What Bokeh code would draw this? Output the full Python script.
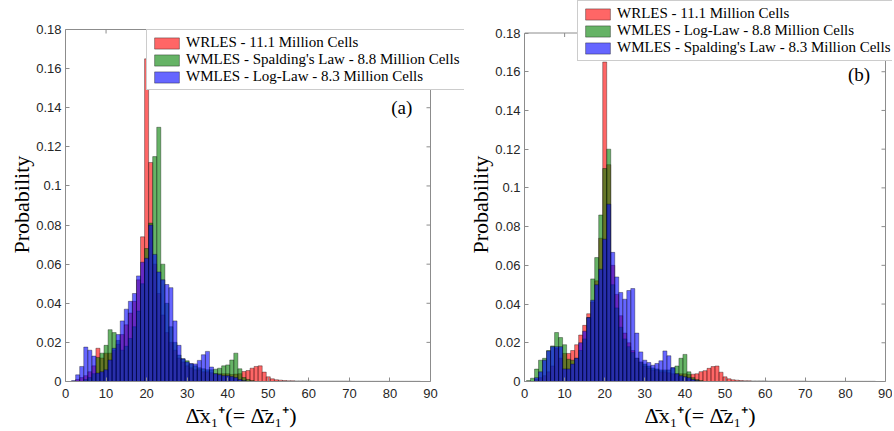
import math
from bokeh.plotting import figure
from bokeh.models import (Range1d, FixedTicker, CustomJSTickFormatter,
                          Legend, LegendItem, Label, ColumnDataSource, Title)
from bokeh.layouts import row
from bokeh.embed import file_html
from bokeh.resources import INLINE

# ---------------- data (bin centres 1..87, bin width 1) ----------------
bin_centers = list(range(1, 88))
bin_width = 1.0

wrles = [0, 0, 0.001, 0.002, 0.003, 0.005, 0.008, 0.017, 0.012, 0.0145,
         0.0145, 0.016, 0.019, 0.024, 0.029, 0.035, 0.041, 0.052, 0.074, 0.165,
         0.112, 0.060, 0.045, 0.034, 0.025, 0.020, 0.016, 0.012, 0.010, 0.008,
         0.007, 0.006, 0.006, 0.005, 0.005, 0.0045, 0.004, 0.004, 0.004, 0.004,
         0.0036, 0.0038, 0.0040, 0.0051, 0.0056, 0.0068, 0.0077, 0.0080, 0.0048, 0.0024,
         0.0014, 0.0009, 0.0007, 0.0005, 0.0004, 0.0004, 0.0003, 0.0003, 0.0003, 0.0003,
         0.0002, 0.0002, 0.0002, 0.0002, 0.0002, 0.0002, 0.0002, 0.0002, 0.0002, 0.0002,
         0.0001, 0.0001, 0.0001, 0.0001, 0.0001, 0.0001, 0.0001, 0.0001, 0.0001, 0.0001,
         0.0001, 0.0001, 0.0001, 0.0001, 0.0001, 0.0001, 0.0001]

a_spalding = [0, 0, 0, 0, 0.001, 0.002, 0.004, 0.0123, 0.0145, 0.0185,
              0.0265, 0.025, 0.021, 0.016, 0.018, 0.022, 0.028, 0.036, 0.050, 0.068,
              0.081, 0.115, 0.130, 0.060, 0.040, 0.028, 0.020, 0.0135, 0.0116, 0.0106,
              0.009, 0.008, 0.007, 0.0065, 0.006, 0.006, 0.0063, 0.0068, 0.008, 0.0085,
              0.011, 0.0145, 0.0065, 0.002, 0.001, 0.0005] + [0] * 41

a_loglaw = [0, 0.0005, 0.0034, 0.0077, 0.0176, 0.016, 0.013, 0.0043, 0.005, 0.006,
            0.011, 0.017, 0.024, 0.031, 0.037, 0.041, 0.045, 0.054, 0.061, 0.063,
            0.080, 0.065, 0.056, 0.052, 0.0496, 0.048, 0.031, 0.0185, 0.0116, 0.0100,
            0.0092, 0.009, 0.0108, 0.0137, 0.0154, 0.0074, 0.004, 0.0035, 0.003, 0.003,
            0.0025, 0.002, 0.001, 0.0005] + [0] * 43

b_loglaw = [0.0005, 0.0017, 0.0064, 0.011, 0.012, 0.016, 0.0184, 0.0253, 0.0227, 0.019,
            0.0115, 0.011, 0.012, 0.016, 0.022, 0.033, 0.053, 0.064, 0.086, 0.110,
            0.120, 0.050, 0.038, 0.028, 0.022, 0.018, 0.015, 0.012, 0.010, 0.009,
            0.008, 0.007, 0.0065, 0.006, 0.006, 0.006, 0.007, 0.008, 0.012, 0.014,
            0.005, 0.002, 0.001, 0.0005] + [0] * 43

b_spalding = [0, 0, 0.002, 0.005, 0.011, 0.0158, 0.018, 0.018, 0.018, 0.0065,
              0.0065, 0.009, 0.012, 0.020, 0.026, 0.033, 0.042, 0.050, 0.058, 0.0735,
              0.0916, 0.0667, 0.054, 0.046, 0.0425, 0.047, 0.048, 0.025, 0.0153, 0.011,
              0.0098, 0.0084, 0.0093, 0.0107, 0.0158, 0.0133, 0.0072, 0.004, 0.003, 0.0025,
              0.002, 0.001, 0.0005] + [0] * 44

x_ticks = [0, 10, 20, 30, 40, 50, 60, 70, 80, 90]
y_ticks = [0, 0.02, 0.04, 0.06, 0.08, 0.1, 0.12, 0.14, 0.16, 0.18]
X_MIN, X_MAX = 0, 90
Y_MIN, Y_MAX = 0, 0.18

labels_a = ["WRLES - 11.1 Million Cells",
            "WMLES - Spalding's Law - 8.8 Million Cells",
            "WMLES - Log-Law - 8.3 Million Cells"]
labels_b = ["WRLES - 11.1 Million Cells",
            "WMLES - Log-Law - 8.8 Million Cells",
            "WMLES - Spalding's Law - 8.3 Million Cells"]
colors = ["#ff0000", "#008000", "#0000ff"]

x_label = "\u0394\u0304x\u2081\u207a(= \u0394\u0304z\u2081\u207a)"
y_label = "Probability"

SERIF = "Liberation Serif"
SANS = "Liberation Sans"
AX = "#8c8c8c"
TXT = "#262626"


def hist_source(vals):
    assert len(vals) == len(bin_centers)
    xs = [c for c, v in zip(bin_centers, vals) if v > 0]
    ys = [v for v in vals if v > 0]
    return ColumnDataSource(dict(left=[c - bin_width / 2 for c in xs],
                                 right=[c + bin_width / 2 for c in xs],
                                 top=ys, bottom=[0] * len(ys)))


def style_axis(ax, ticks):
    ax.ticker = FixedTicker(ticks=ticks)
    ax.axis_line_color = AX
    ax.major_tick_line_color = AX
    ax.major_tick_in = 4
    ax.major_tick_out = 0
    ax.minor_tick_line_color = None
    ax.major_label_text_font = SANS
    ax.major_label_text_font_size = "13px"
    ax.major_label_text_color = TXT


def make_panel(series, labels, tag, tag_x, tag_y, frame, borders, px_x, px_y,
               legend_xy, xlab_offset, ylab_offset):
    fw, fh = frame
    # data box is 0..90 x 0..0.18; frame is larger so the legend can overhang
    x_end = fw / px_x
    y_end = fh / px_y
    p = figure(frame_width=fw, frame_height=fh,
               x_range=Range1d(X_MIN, x_end), y_range=Range1d(Y_MIN, y_end),
               output_backend="svg", toolbar_location=None, title_location=None,
               min_border_left=borders[0], min_border_right=borders[1],
               min_border_top=borders[2], min_border_bottom=borders[3])
    p.xgrid.visible = False
    p.ygrid.visible = False
    p.outline_line_color = None
    items = []
    for vals, col, lab in zip(series, colors, labels):
        r = p.quad(source=hist_source(vals), left="left", right="right",
                   top="top", bottom="bottom", fill_color=col, fill_alpha=0.6,
                   line_color="black", line_alpha=0.7, line_width=0.5)
        items.append(LegendItem(label=lab, renderers=[r]))

    xa = p.xaxis[0]
    ya = p.yaxis[0]
    style_axis(xa, x_ticks)
    style_axis(ya, y_ticks)
    xa.bounds = (X_MIN, X_MAX)
    ya.bounds = (Y_MIN, Y_MAX)
    ya.formatter = CustomJSTickFormatter(
        code="var s = tick.toFixed(2); s = s.replace(/0+$/, ''); s = s.replace(/\\.$/, ''); return s;")
    xa.major_label_standoff = 7
    ya.major_label_standoff = 4

    # top and right box edges with inward ticks
    p.segment(x0=[X_MIN, X_MAX], y0=[Y_MAX, Y_MIN], x1=[X_MAX, X_MAX], y1=[Y_MAX, Y_MAX],
              line_color=AX, line_width=1)
    p.ray(x=x_ticks, y=[Y_MAX] * len(x_ticks), length=4, length_units="screen",
          angle=-math.pi / 2, line_color=AX, line_width=1)
    p.ray(x=[X_MAX] * len(y_ticks), y=y_ticks, length=4, length_units="screen",
          angle=math.pi, line_color=AX, line_width=1)

    xt = Title(text=x_label, text_font=SERIF, text_font_size="22px",
               text_font_style="normal", text_color="#000000", standoff=0,
               align="left", offset=xlab_offset)
    p.add_layout(xt, "below")
    yt = Title(text=y_label, text_font=SERIF, text_font_size="22px",
               text_font_style="normal", text_color="#000000", standoff=0,
               align="left", offset=ylab_offset)
    p.add_layout(yt, "left")

    leg = Legend(items=items, location=legend_xy,
                 label_text_font=SERIF, label_text_font_size="15px",
                 label_text_color="#000000",
                 glyph_width=31, glyph_height=14, label_height=15,
                 label_standoff=4, spacing=0, padding=4, margin=0,
                 border_line_color="#9a9a9a", border_line_width=1,
                 background_fill_color="white", background_fill_alpha=1.0)
    p.add_layout(leg, "center")

    p.add_layout(Label(x=tag_x, y=tag_y, text=tag, text_font=SERIF,
                       text_font_size="19px", text_align="center",
                       text_baseline="middle", text_color="#000000"))
    return p


# both frames run from the top edge down to y=381 (row aligns frame tops/bottoms)
# left panel: data box 365 x 352 px inside a 399 x 381 frame
p1 = make_panel([wrles, a_spalding, a_loglaw], labels_a, "(a)", 82.9, 0.140,
                frame=(399, 381), borders=(65, 0, 0, 49),
                px_x=365 / 90, px_y=352 / 0.18,
                legend_xy=(81, 291), xlab_offset=120, ylab_offset=128)
# right panel: data box 361 x 348.5 px inside a 368 x 381 frame
p2 = make_panel([wrles, b_loglaw, b_spalding], labels_b, "(b)", 83.4, 0.1585,
                frame=(368, 381), borders=(60, 0, 0, 49),
                px_x=361 / 90, px_y=348.5 / 0.18,
                legend_xy=(53, 320), xlab_offset=120, ylab_offset=128)

layout = row(p1, p2)
open("out.html", "w").write(file_html(layout, INLINE))
